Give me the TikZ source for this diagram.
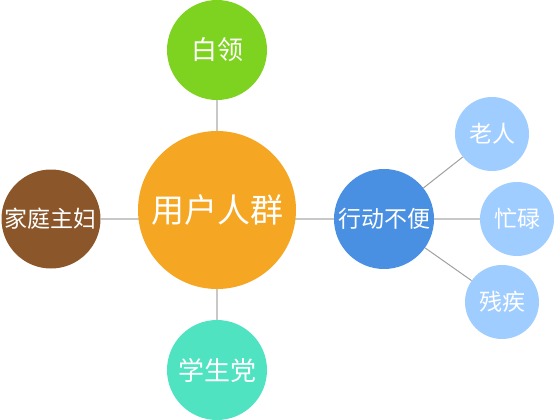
\documentclass[tikz,border=0pt]{standalone}
\usepackage{fontspec}
\setmainfont{Noto Sans CJK SC}
\usetikzlibrary{backgrounds}
\definecolor{cOrange}{HTML}{F5A623}
\definecolor{cGreen}{HTML}{7ED321}
\definecolor{cTeal}{HTML}{50E3C2}
\definecolor{cBrown}{HTML}{8B572A}
\definecolor{cBlue}{HTML}{4A90E2}
\definecolor{cLight}{HTML}{A0CDFF}
\definecolor{cLine}{HTML}{C8C8C8}
\definecolor{cLineDark}{HTML}{A0A0A0}
\tikzset{
  bubble/.style={circle, inner sep=0pt, text=white, draw=none},
  mainline/.style={draw=cLine, line width=1.6pt},
  subline/.style={draw=cLineDark, line width=1pt},
}
\begin{document}
\begin{tikzpicture}[x=1pt,y=-1pt]
\useasboundingbox (0,0) rectangle (555,420);
\node[bubble, fill=cOrange, minimum size=158pt, font=\fontsize{33}{36}\selectfont] (center) at (217,210) {用户人群};
\node[bubble, fill=cGreen, minimum size=100pt, font=\fontsize{26}{30}\selectfont] (white) at (217,50) {白领};
\node[bubble, fill=cTeal, minimum size=100pt, font=\fontsize{26}{30}\selectfont] (student) at (217,370) {学生党};
\node[bubble, fill=cBrown, minimum size=99pt, font=\fontsize{23}{27}\selectfont] (house) at (51,219) {家庭主妇};
\node[bubble, fill=cBlue, minimum size=100pt, font=\fontsize{23}{27}\selectfont] (mobility) at (384,219) {行动不便};
\node[bubble, fill=cLight, minimum size=74pt, font=\fontsize{23}{27}\selectfont] (old) at (492,134) {老人};
\node[bubble, fill=cLight, minimum size=74pt, font=\fontsize{23}{27}\selectfont] (busy) at (517,219) {忙碌};
\node[bubble, fill=cLight, minimum size=74pt, font=\fontsize{23}{27}\selectfont] (disabled) at (502,302) {残疾};
\begin{pgfonlayer}{background}
\path[mainline] (white) -- (student);
\path[mainline] (house) -- (mobility);
\path[mainline] (mobility) -- (busy);
\path[subline] (mobility) -- (old);
\path[subline] (mobility) -- (disabled);
\end{pgfonlayer}
\end{tikzpicture}
\end{document}
